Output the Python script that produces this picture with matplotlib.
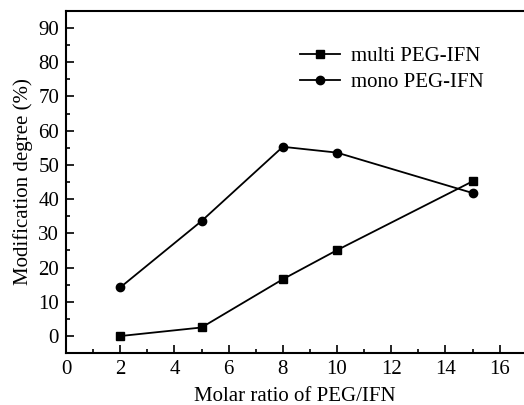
import matplotlib
matplotlib.use("Agg")
import matplotlib.pyplot as plt
from matplotlib.ticker import MultipleLocator

# Data
molar_ratio = [2, 5, 8, 10, 15]
multi_peg = [0.0, 2.5, 16.6, 25.1, 45.2]
mono_peg = [14.2, 33.6, 55.3, 53.6, 41.8]

plt.rcParams["font.family"] = ["Liberation Serif", "DejaVu Serif"]
plt.rcParams["font.size"] = 15

fig = plt.figure(figsize=(5.24, 4.05), dpi=100)
ax = fig.add_axes([0.126, 0.128, 0.874, 0.845])

ax.plot(molar_ratio, multi_peg, color="black", lw=1.3, marker="s", ms=5.5,
        label="multi PEG-IFN")
ax.plot(molar_ratio, mono_peg, color="black", lw=1.3, marker="o", ms=6,
        label="mono PEG-IFN")

ax.set_xlim(0, 16.9)
ax.set_ylim(-5, 95)
ax.xaxis.set_major_locator(MultipleLocator(2))
ax.xaxis.set_minor_locator(MultipleLocator(1))
ax.yaxis.set_major_locator(MultipleLocator(10))
ax.yaxis.set_minor_locator(MultipleLocator(5))
ax.tick_params(which="both", direction="in", width=1.2)
ax.tick_params(which="major", length=6, pad=5)
ax.tick_params(which="minor", length=3)

for side in ["left", "bottom", "top"]:
    ax.spines[side].set_linewidth(1.5)
ax.spines["right"].set_visible(False)

ax.set_xlabel("Molar ratio of PEG/IFN", labelpad=6)
ax.set_ylabel("Modification degree (%)", labelpad=4)

ax.legend(loc="upper left", bbox_to_anchor=(0.557, 0.905), frameon=False,
          handlelength=1.9, handletextpad=0.55, labelspacing=0.3,
          borderaxespad=0, bbox_transform=fig.transFigure)

fig.savefig("out.png", dpi=100)
